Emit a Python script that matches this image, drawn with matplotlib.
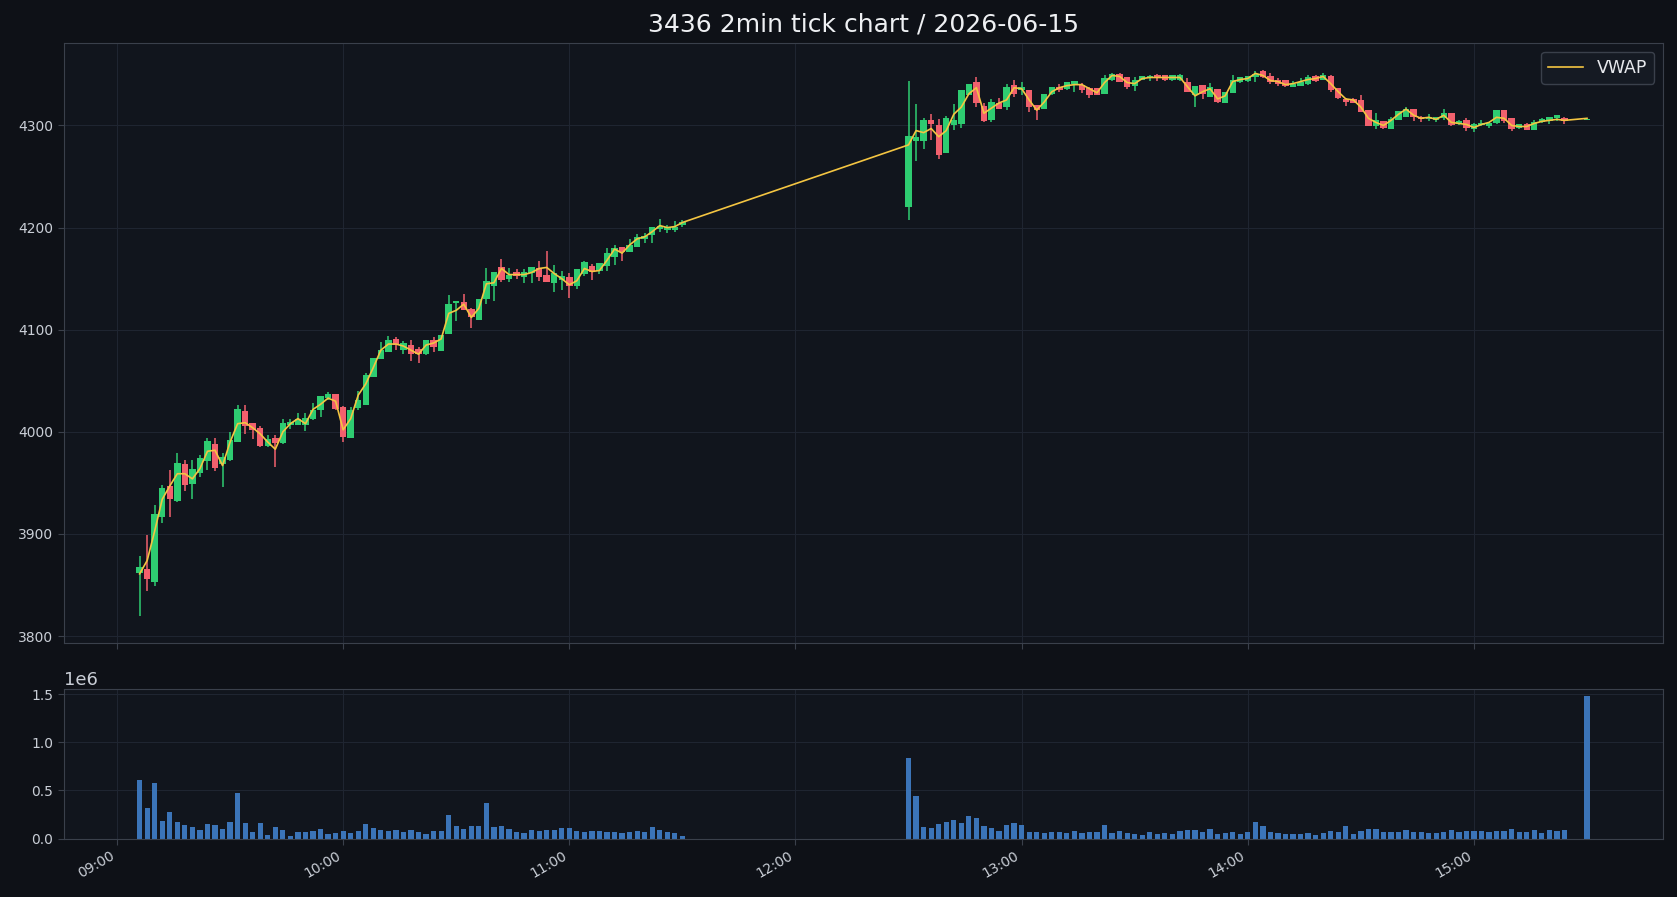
import numpy as np
import pandas as pd
import matplotlib
matplotlib.use("Agg")
import matplotlib.pyplot as plt
import matplotlib.dates as mdates

# bar times: morning 09:06-11:30, afternoon 12:30-15:24, closing auction 15:30
am_times = pd.date_range("2026-06-15 09:06", "2026-06-15 11:30", freq="2min")
pm_times = pd.date_range("2026-06-15 12:30", "2026-06-15 15:24", freq="2min")
close_auction = pd.DatetimeIndex(["2026-06-15 15:30"])
times = am_times.append(pm_times).append(close_auction)

# morning session (73 bars)
am_open = [3862, 3866, 3853, 3917, 3947, 3932, 3969, 3949, 3960, 3971, 3988, 3969, 3972, 3990, 4020, 4009,
           4004, 3986, 3994, 3989, 4007, 4007, 4007, 4013, 4021, 4033, 4037, 4024, 3994, 4023, 4026, 4054,
           4071, 4078, 4091, 4080, 4085, 4081, 4076, 4090, 4079, 4096, 4126, 4127, 4120, 4110, 4130, 4143,
           4161, 4150, 4157, 4152, 4156, 4160, 4154, 4146, 4149, 4152, 4143, 4155, 4162, 4158, 4162, 4171,
           4181, 4176, 4181, 4189, 4193, 4199, 4198, 4198, 4203]
am_high = [3878, 3899, 3928, 3948, 3963, 3979, 3972, 3972, 3977, 3994, 3994, 3979, 4000, 4026, 4026, 4009,
           4006, 3997, 3997, 4013, 4013, 4018, 4018, 4028, 4035, 4039, 4037, 4025, 4024, 4040, 4058, 4072,
           4088, 4094, 4093, 4089, 4090, 4083, 4090, 4093, 4095, 4134, 4128, 4135, 4121, 4130, 4160, 4157,
           4169, 4160, 4159, 4159, 4161, 4167, 4177, 4163, 4158, 4156, 4159, 4167, 4164, 4165, 4180, 4183,
           4181, 4189, 4194, 4195, 4201, 4208, 4203, 4206, 4207]
am_low = [3820, 3844, 3849, 3911, 3917, 3931, 3942, 3934, 3956, 3963, 3962, 3946, 3971, 3990, 3998, 3993,
          3985, 3985, 3966, 3988, 4003, 4007, 4001, 4012, 4015, 4031, 4021, 3990, 3994, 4021, 4026, 4054,
          4071, 4078, 4080, 4076, 4069, 4067, 4075, 4078, 4079, 4096, 4109, 4119, 4102, 4110, 4125, 4128,
          4147, 4147, 4150, 4146, 4146, 4148, 4147, 4137, 4139, 4131, 4140, 4153, 4149, 4155, 4158, 4163,
          4167, 4176, 4181, 4185, 4185, 4196, 4195, 4196, 4201]
am_close = [3868, 3856, 3920, 3945, 3934, 3970, 3948, 3964, 3974, 3991, 3965, 3975, 3992, 4022, 4006, 4002,
            3986, 3993, 3989, 4009, 4010, 4013, 4014, 4021, 4035, 4037, 4022, 3995, 4021, 4031, 4056, 4072,
            4080, 4090, 4085, 4087, 4076, 4076, 4090, 4083, 4095, 4125, 4128, 4119, 4112, 4130, 4148, 4157,
            4149, 4154, 4153, 4157, 4161, 4152, 4147, 4156, 4153, 4143, 4159, 4166, 4157, 4165, 4175, 4180,
            4176, 4183, 4191, 4192, 4201, 4202, 4201, 4201, 4205]
am_vwap = [3861, 3874, 3903, 3934, 3947, 3959, 3959, 3954, 3964, 3981, 3982, 3967, 3990, 4008, 4009, 4004,
           3998, 3990, 3983, 4000, 4008, 4013, 4008, 4022, 4027, 4033, 4030, 4002, 4013, 4036, 4047, 4063,
           4080, 4086, 4086, 4084, 4080, 4076, 4085, 4087, 4091, 4116, 4119, 4125, 4112, 4121, 4145, 4146,
           4160, 4154, 4154, 4154, 4156, 4160, 4161, 4155, 4150, 4144, 4148, 4160, 4157, 4158, 4168, 4179,
           4175, 4183, 4189, 4191, 4196, 4202, 4200, 4201, 4205]
am_volume_k = [614, 314, 583, 179, 272, 169, 138, 117, 86, 148, 138, 97, 169, 469, 159, 66,
               159, 34, 117, 86, 24, 66, 66, 76, 97, 45, 55, 76, 55, 76, 148, 107,
               86, 76, 86, 66, 86, 66, 45, 76, 76, 241, 128, 97, 128, 128, 365, 117,
               128, 97, 66, 55, 86, 76, 86, 86, 107, 107, 76, 66, 76, 76, 66, 66,
               55, 66, 76, 66, 117, 86, 66, 55, 24]

# afternoon session (88 bars) plus the 15:30 closing auction bar
pm_open = [4220, 4285, 4285, 4305, 4300, 4273, 4300, 4301, 4330, 4343, 4319, 4305, 4322, 4318, 4340, 4335,
           4335, 4320, 4316, 4331, 4338, 4336, 4341, 4340, 4337, 4337, 4331, 4345, 4350, 4347, 4339, 4345,
           4346, 4349, 4349, 4345, 4345, 4343, 4330, 4340, 4328, 4336, 4322, 4332, 4343, 4344, 4347, 4353,
           4348, 4345, 4345, 4338, 4339, 4341, 4348, 4345, 4348, 4337, 4326, 4326, 4325, 4315, 4299, 4304,
           4297, 4305, 4308, 4316, 4308, 4306, 4305, 4307, 4312, 4301, 4305, 4297, 4300, 4299, 4302, 4315,
           4307, 4298, 4301, 4296, 4303, 4304, 4307, 4307, 4305]
pm_high = [4344, 4321, 4307, 4311, 4306, 4309, 4321, 4335, 4341, 4347, 4322, 4326, 4327, 4341, 4345, 4343,
           4335, 4320, 4331, 4338, 4341, 4343, 4344, 4342, 4338, 4337, 4349, 4351, 4351, 4347, 4347, 4348,
           4349, 4350, 4349, 4349, 4350, 4346, 4339, 4340, 4342, 4336, 4333, 4349, 4347, 4348, 4353, 4354,
           4351, 4346, 4345, 4344, 4346, 4349, 4349, 4351, 4349, 4337, 4327, 4327, 4330, 4315, 4312, 4304,
           4308, 4314, 4318, 4316, 4309, 4311, 4308, 4316, 4312, 4305, 4307, 4302, 4305, 4302, 4315, 4315,
           4307, 4301, 4302, 4305, 4307, 4308, 4310, 4308, 4306]
pm_low = [4207, 4265, 4277, 4286, 4267, 4273, 4296, 4298, 4330, 4318, 4303, 4303, 4316, 4315, 4328, 4330,
          4313, 4305, 4316, 4330, 4333, 4335, 4333, 4332, 4327, 4330, 4331, 4344, 4343, 4336, 4334, 4345,
          4344, 4344, 4344, 4344, 4344, 4333, 4318, 4326, 4328, 4322, 4322, 4332, 4342, 4343, 4343, 4346,
          4341, 4339, 4338, 4338, 4339, 4340, 4343, 4345, 4333, 4326, 4319, 4322, 4313, 4299, 4297, 4297,
          4297, 4305, 4308, 4304, 4303, 4304, 4303, 4305, 4299, 4300, 4295, 4294, 4299, 4298, 4301, 4302,
          4295, 4297, 4296, 4296, 4302, 4301, 4304, 4301, 4305]
pm_close = [4290, 4289, 4305, 4301, 4271, 4307, 4305, 4335, 4341, 4322, 4304, 4323, 4316, 4338, 4331, 4338,
            4318, 4315, 4331, 4338, 4335, 4343, 4344, 4335, 4330, 4330, 4346, 4350, 4343, 4338, 4345, 4348,
            4348, 4346, 4345, 4349, 4349, 4333, 4339, 4331, 4338, 4323, 4333, 4345, 4347, 4348, 4350, 4347,
            4343, 4341, 4339, 4341, 4343, 4347, 4344, 4349, 4335, 4327, 4323, 4322, 4313, 4299, 4305, 4298,
            4306, 4314, 4316, 4308, 4306, 4308, 4308, 4312, 4300, 4304, 4298, 4301, 4302, 4302, 4315, 4304,
            4297, 4301, 4296, 4303, 4306, 4308, 4310, 4304, 4306]
pm_vwap = [4281, 4295, 4293, 4297, 4289, 4295, 4311, 4318, 4331, 4337, 4312, 4317, 4322, 4325, 4337, 4336,
           4325, 4315, 4323, 4333, 4337, 4339, 4340, 4340, 4336, 4332, 4342, 4349, 4348, 4342, 4341, 4346,
           4347, 4347, 4347, 4347, 4347, 4338, 4329, 4333, 4336, 4326, 4329, 4343, 4345, 4346, 4351, 4349,
           4344, 4343, 4340, 4341, 4343, 4345, 4346, 4348, 4341, 4333, 4326, 4325, 4318, 4307, 4303, 4300,
           4305, 4311, 4316, 4310, 4307, 4308, 4306, 4310, 4303, 4302, 4301, 4298, 4301, 4303, 4308, 4307,
           4300, 4299, 4299, 4302, 4304, 4305, 4306, 4305, 4307]
pm_volume_k = [841, 438, 117, 107, 148, 169, 190, 159, 231, 210, 128, 107, 76, 138, 159, 138,
               66, 66, 55, 66, 66, 55, 76, 55, 66, 66, 138, 55, 76, 55, 45, 34,
               66, 45, 55, 45, 76, 86, 86, 66, 97, 45, 55, 66, 45, 66, 169, 128,
               66, 55, 45, 45, 45, 55, 34, 55, 76, 66, 128, 45, 76, 97, 97, 66,
               66, 66, 86, 66, 66, 55, 55, 66, 86, 66, 76, 76, 76, 66, 76, 76,
               97, 66, 66, 86, 55, 86, 76, 86, 1483]

o = np.array(am_open + pm_open, dtype=float)
h = np.array(am_high + pm_high, dtype=float)
l = np.array(am_low + pm_low, dtype=float)
c = np.array(am_close + pm_close, dtype=float)
vwap = np.array(am_vwap + pm_vwap, dtype=float)
volume = np.array(am_volume_k + pm_volume_k, dtype=float) * 1000

# colours
BG = "#0e1117"
PANEL = "#11151d"
GRID = "#202632"
SPINE = "#3a404b"
TEXT = "#c9ced6"
UP = "#2ecc71"
DOWN = "#f2606d"
VWAP_C = "#f4c542"
VOL_C = "#3b74b8"

fig = plt.figure(figsize=(16.77, 8.97), dpi=100, facecolor=BG)
ax = fig.add_axes([0.038, 0.2832, 0.9536, 0.6688], facecolor=PANEL)
axv = fig.add_axes([0.038, 0.0652, 0.9536, 0.1667], facecolor=PANEL, sharex=ax)

x = mdates.date2num(times)
up = c >= o
cols = np.where(up, UP, DOWN)

'''Candles: wick lines and body bars'''
ax.vlines(x, l, h, colors=cols, linewidth=1.1, zorder=2)
body_lo = np.minimum(o, c)
body_h = np.maximum(np.abs(c - o), 0.8)
ax.bar(x, body_h, bottom=body_lo, width=1.7 / 1440, color=cols, linewidth=0, zorder=3)
ax.plot(x, vwap, color=VWAP_C, linewidth=1.2, label="VWAP", zorder=4)

'''Volume'''
axv.bar(x, volume, width=1.4 / 1440, color=VOL_C, linewidth=0, zorder=2)

for a in (ax, axv):
    a.grid(True, color=GRID, linewidth=0.7, zorder=0)
    a.set_axisbelow(True)
    for s in a.spines.values():
        s.set_color(SPINE)
    a.tick_params(colors=TEXT, labelsize=10, length=4)
    a.tick_params(axis="x", colors=SPINE, labelcolor=TEXT)
    a.tick_params(axis="y", colors=SPINE, labelcolor=TEXT)

ax.xaxis.set_major_locator(mdates.HourLocator())
ax.xaxis.set_major_formatter(mdates.DateFormatter("%H:%M"))
plt.setp(ax.get_xticklabels(), visible=False)
for lab in axv.get_xticklabels():
    lab.set_rotation(30)
    lab.set_ha("right")

axv.set_ylim(0, 1.557e6)
axv.set_yticks([0, 0.5e6, 1.0e6, 1.5e6])
axv.yaxis.get_offset_text().set_color(TEXT)
axv.yaxis.get_offset_text().set_fontsize(13)

ax.set_title("3436 2min tick chart / 2026-06-15", color="#eef0f3", fontsize=18, pad=8)
leg = ax.legend(loc="upper right", fontsize=12.5, facecolor="#151a23", edgecolor=SPINE,
                labelcolor="#e6e8ec", framealpha=1.0)

fig.savefig("out.png", dpi=100, facecolor=BG)
